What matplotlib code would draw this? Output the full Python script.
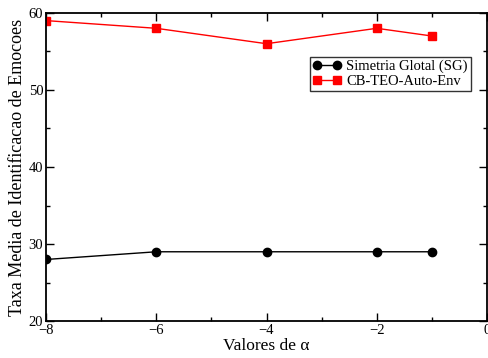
import matplotlib
matplotlib.use("Agg")
import matplotlib.pyplot as plt
from matplotlib.ticker import MultipleLocator

alpha = [-8, -6, -4, -2, -1]
sg_vals = [28, 29, 29, 29, 29]
cb_vals = [59, 58, 56, 58, 57]

plt.rcParams['font.family'] = ['Liberation Serif', 'DejaVu Serif']

fig = plt.figure(figsize=(4.89, 3.58), dpi=100)
ax = fig.add_axes([0.094, 0.103, 0.902, 0.861])

ax.plot(alpha, sg_vals, color="black", marker="o", markersize=6, linewidth=1, label="Simetria Glotal (SG)")
ax.plot(alpha, cb_vals, color="red", marker="s", markersize=5.5, linewidth=1, label="CB-TEO-Auto-Env")

ax.set_xlim(-8, 0)
ax.set_ylim(20, 60)
ax.xaxis.set_major_locator(MultipleLocator(2))
ax.xaxis.set_minor_locator(MultipleLocator(1))
ax.yaxis.set_major_locator(MultipleLocator(10))
ax.yaxis.set_minor_locator(MultipleLocator(5))
ax.tick_params(which="both", direction="in", top=True, right=True, labelsize=10.5, pad=2)
ax.tick_params(which="major", length=6, width=1)
ax.tick_params(which="minor", length=3, width=1)
for s in ax.spines.values():
    s.set_linewidth(1.3)

ax.set_xlabel("Valores de α", fontsize=12.5, labelpad=1)
ax.set_ylabel("Taxa Media de Identificacao de Emocoes", fontsize=13, labelpad=2)

leg = ax.legend(loc="upper left", bbox_to_anchor=(0.598, 0.857), fontsize=10.5, frameon=True,
                fancybox=False, edgecolor="black", borderpad=0.2, numpoints=2,
                handlelength=2.0, handletextpad=0.3, labelspacing=0.1, borderaxespad=0)
leg.get_frame().set_linewidth(1)

fig.savefig("out.png", dpi=100)
